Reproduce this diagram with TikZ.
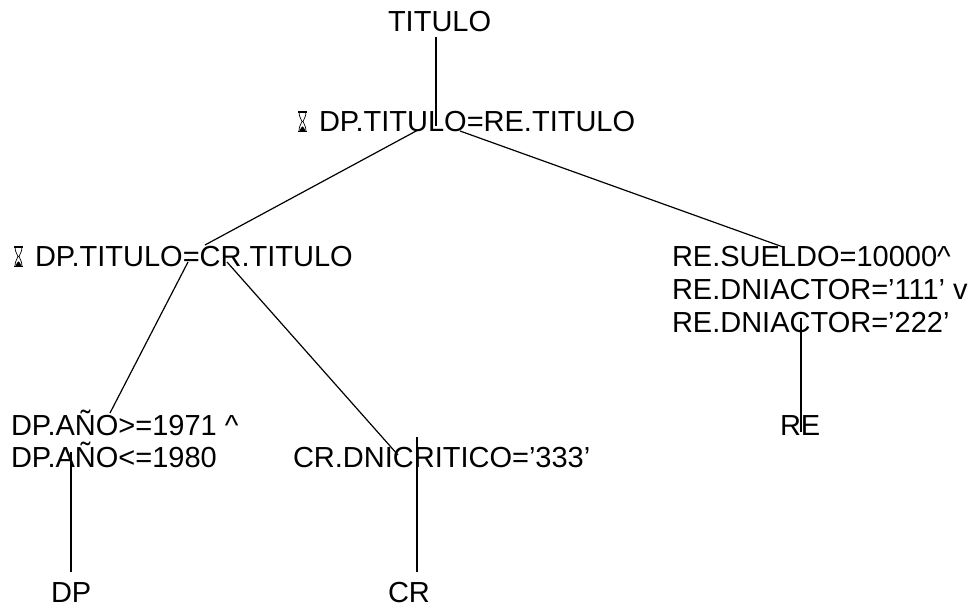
\documentclass[tikz,border=0pt]{standalone}
\usepackage{fontspec}
\setmainfont{Liberation Sans}
\begin{document}
\begin{tikzpicture}[x=1pt,y=-1pt,
  lbl/.style={anchor=base west, inner sep=0pt, outer sep=0pt,
              font=\fontsize{29}{33.4}\selectfont},
  edge/.style={line width=1.2pt, black},
  hourglass/.pic={
    \draw[line width=1.4pt] (1,-20) -- (10,-20) (1,-0.7) -- (10,-0.7);
    \draw[line width=0.7pt]
      (2,-20) .. controls (2,-14) and (5,-12.5) .. (5,-10.5)
              .. controls (5,-8.5) and (2,-7) .. (2,-1)
      (9,-20) .. controls (9,-14) and (6,-12.5) .. (6,-10.5)
              .. controls (6,-8.5) and (9,-7) .. (9,-1);
    \fill (2.5,-1.2) -- (8.5,-1.2) .. controls (8,-3.5) and (6.5,-4.5) .. (5.5,-5.5)
          .. controls (4.5,-4.5) and (3,-3.5) .. (2.5,-1.2) -- cycle;
  }]
\useasboundingbox (0,0) rectangle (979,609);

% text of the tree
\node[lbl] (t0)  at (388,32)  {TITULO};
\pic at (297,132) {hourglass};
\node[lbl] (t1)  at (319,132) {DP.TITULO=RE.TITULO};
\pic at (13,267) {hourglass};
\node[lbl] (t2)  at (35,267)  {DP.TITULO=CR.TITULO};
\node[lbl] (re1) at (672,267) {RE.SUELDO=10000\textasciicircum};
\node[lbl] (re2) at (672,300) {RE.DNIACTOR=’111’ v};
\node[lbl] (re3) at (672,333) {RE.DNIACTOR=’222’};
\node[lbl] (dp1) at (11,435)  {DP.AÑO>=1971 \textasciicircum};
\node[lbl] (dp2) at (11,467)  {DP.AÑO<=1980};
\node[lbl] (cr1) at (293,467) {CR.DNICRITICO=’333’};
\node[lbl] (re)  at (780,435) {RE};
\node[lbl] (dp)  at (51,602)  {DP};
\node[lbl] (cr)  at (388,602) {CR};

% connector end points
\coordinate (a0) at (436,37);   \coordinate (a1) at (436,126);
\coordinate (b0) at (418,130);  \coordinate (b1) at (205,245);
\coordinate (c0) at (460,131);  \coordinate (c1) at (783,247);
\coordinate (d0) at (188,262);  \coordinate (d1) at (110,413);
\coordinate (e0) at (227,262);  \coordinate (e1) at (398,455);
\coordinate (f0) at (71,452);   \coordinate (f1) at (71,572);
\coordinate (g0) at (417,437);  \coordinate (g1) at (417,572);
\coordinate (h0) at (801,318);  \coordinate (h1) at (801,432);

\draw[edge] (a0) -- (a1);
\draw[edge] (b0) -- (b1);
\draw[edge] (c0) -- (c1);
\draw[edge] (d0) -- (d1);
\draw[edge] (e0) -- (e1);
\draw[edge] (f0) -- (f1);
\draw[edge] (g0) -- (g1);
\draw[edge] (h0) -- (h1);
\end{tikzpicture}
\end{document}
